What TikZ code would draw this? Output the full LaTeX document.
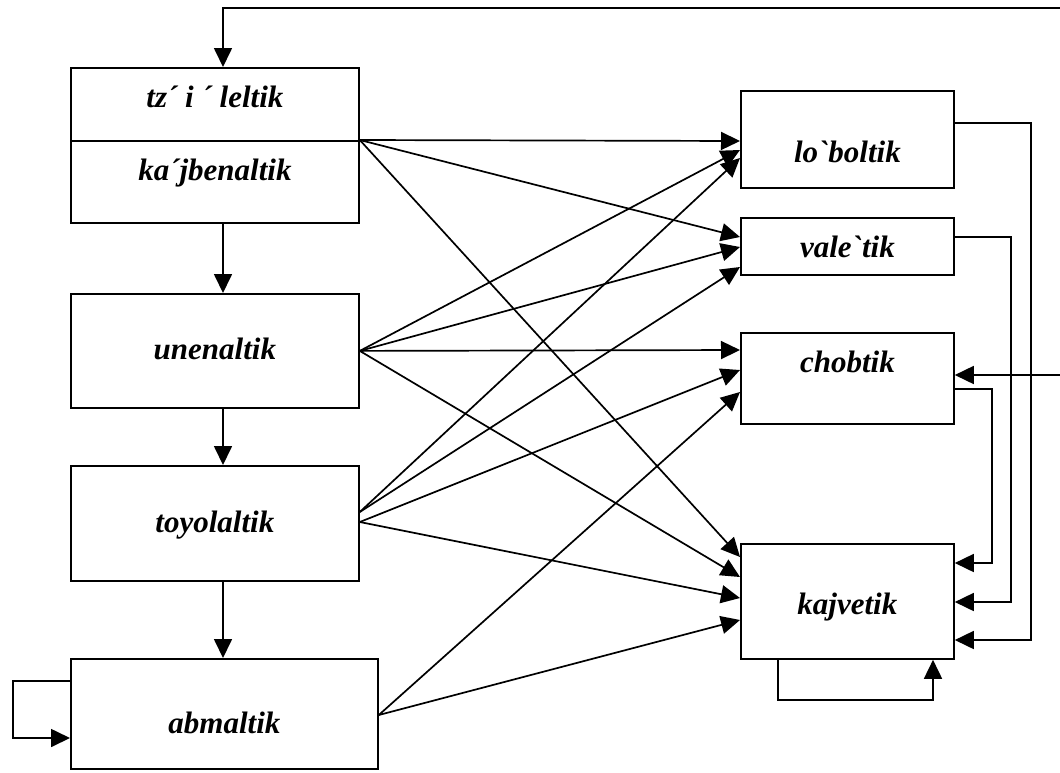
\documentclass[tikz,border=0pt]{standalone}
\usepackage{fontspec}
\newfontfamily\lbl{Liberation Serif}
\usetikzlibrary{arrows.meta}
\begin{document}
\begin{tikzpicture}[x=1pt,y=-1pt,line width=1.7pt,
  box/.style={draw,line width=1.8pt,anchor=north west,inner sep=0pt,
    font=\lbl\bfseries\itshape\fontsize{31}{34}\selectfont},
  bl/.code={\pgfmathsetlengthmacro\tmpH{25pt+#1}\pgfmathsetlengthmacro\tmpD{25pt-#1}%
    \edef\tmp{\noexpand\pgfkeysalso{text height=\tmpH,text depth=\tmpD}}\tmp},
  arr/.style={-{Triangle[length=19pt,width=18pt]}}]
\useasboundingbox (0,0) rectangle (1060,772);
% left column
\node[box,bl=3.5pt,minimum width=288pt,minimum height=73pt] (tz) at (70,67) {tz´ i ´ leltik};
\node[box,bl=-1pt,minimum width=288pt,minimum height=82pt] (kaj) at (70,140) {ka´jbenaltik};
\node[box,bl=9pt,minimum width=288pt,minimum height=114pt] (une) at (70,293) {unenaltik};
\node[box,bl=9pt,minimum width=288pt,minimum height=115pt] (toy) at (70,465) {toyolaltik};
\node[box,bl=20pt,minimum width=307pt,minimum height=110pt] (abm) at (70,658) {abmaltik};
% right column
\node[box,bl=23.5pt,minimum width=213pt,minimum height=97pt] (lob) at (740,90) {lo`boltik};
\node[box,bl=11.5pt,minimum width=213pt,minimum height=57pt] (val) at (740,217) {vale`tik};
\node[box,bl=-5.5pt,minimum width=213pt,minimum height=91pt] (cho) at (740,332) {chobtik};
\node[box,bl=13.5pt,minimum width=213pt,minimum height=115pt] (kjv) at (740,543) {kajvetik};
% free ends
\coordinate (topin) at (1060,8);
\coordinate (choin) at (1060,375);
% vertical chain
\draw[arr] (topin) -| (tz.north -| 223,0);
\draw[arr] (kaj.south -| 223,0) -- (une.north -| 223,0);
\draw[arr] (une.south -| 223,0) -- (toy.north -| 223,0);
\draw[arr] (toy.south -| 223,0) -- (abm.north -| 223,0);
% from tz / kaj
\draw[arr] (kaj.north east) -- (lob.west |- 0,141);
\draw[arr] (kaj.north east) -- (val.west |- 0,237);
\draw[arr] (kaj.north east) -- (kjv.west |- 0,557);
% from unenaltik
\draw[arr] (une.east) -- (lob.west |- 0,150);
\draw[arr] (une.east) -- (val.west |- 0,247);
\draw[arr] (une.east) -- (cho.west |- 0,350);
\draw[arr] (une.east) -- (kjv.west |- 0,577);
% from toyolaltik
\draw[arr] (toy.east |- 0,512) -- (lob.west |- 0,158);
\draw[arr] (toy.east |- 0,512) -- (val.west |- 0,267);
\draw[arr] (toy.east |- 0,522) -- (cho.west |- 0,370);
\draw[arr] (toy.east |- 0,522) -- (kjv.west |- 0,598);
% from abmaltik
\draw[arr] (abm.east |- 0,715) -- (cho.west |- 0,392);
\draw[arr] (abm.east |- 0,715) -- (kjv.west |- 0,620);
% right side feedback
\draw[arr] (lob.east |- 0,123) -| (1031,640) -- (kjv.east |- 0,640);
\draw[arr] (val.east |- 0,237) -| (1011,602) -- (kjv.east |- 0,602);
\draw[arr] (cho.east |- 0,389) -| (992,563) -- (kjv.east |- 0,563);
\draw[arr] (choin) -- (cho.east |- 0,375);
% self loops
\draw[arr] (kjv.south -| 778,0) |- (933,700) -- (kjv.south -| 933,0);
\draw[arr] (abm.west |- 0,681) -| (13,738) -- (abm.west |- 0,738);
\end{tikzpicture}
\end{document}
